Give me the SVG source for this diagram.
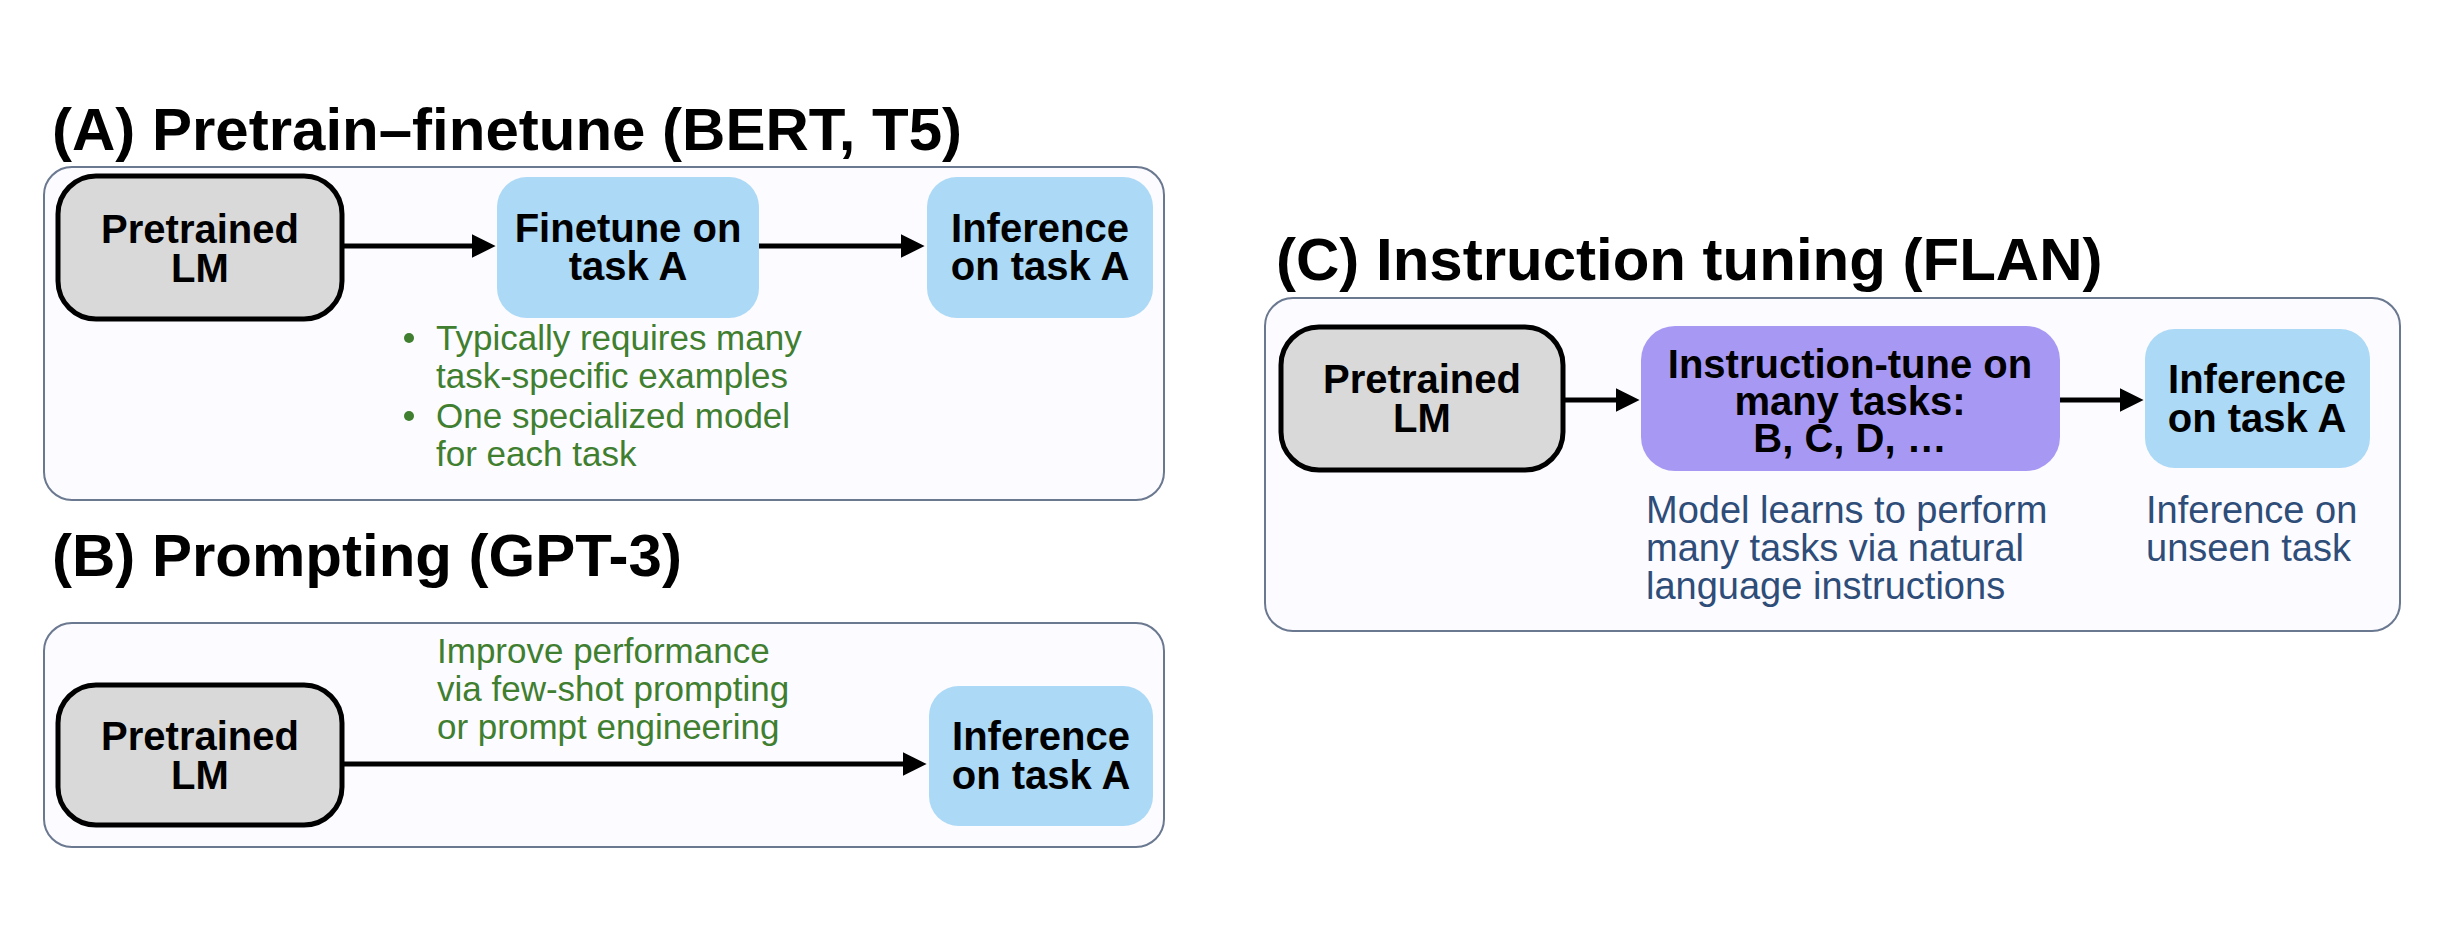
<svg xmlns="http://www.w3.org/2000/svg" width="2460" height="952" viewBox="0 0 2460 952">
  <defs>
    <marker id="ah" viewBox="0 0 10 10" refX="1" refY="5" markerWidth="24" markerHeight="28" markerUnits="userSpaceOnUse" orient="auto">
      <path d="M0,0 L10,5 L0,10 Z" fill="#000"/>
    </marker>
    <style>
      .title { font-family: "Liberation Sans", Arial, sans-serif; font-weight: bold; font-size: 60px; fill: #000; }
      .panel { fill: #fcfbff; stroke: #6a7890; stroke-width: 2; }
      .gray { fill: #d9d9d9; stroke: #000; stroke-width: 5; }
      .blue { fill: #abd9f6; }
      .purple { fill: #a799f3; }
      .nt { font-family: "Liberation Sans", Arial, sans-serif; font-weight: bold; font-size: 40px; fill: #000; text-anchor: middle; }
      .green { font-family: "Liberation Sans", Arial, sans-serif; font-size: 35px; fill: #3f7f2f; }
      .bluet { font-family: "Liberation Sans", Arial, sans-serif; font-size: 38px; fill: #2e4d78; }
      .conn { stroke: #000; stroke-width: 5; fill: none; marker-end: url(#ah); }
    </style>
  </defs>
  <rect width="2460" height="952" fill="#ffffff"/>

  <!-- Panel A -->
  <g id="panelA">
    <text class="title" x="52" y="150">(A) Pretrain–finetune (BERT, T5)</text>
    <rect class="panel" x="44" y="167" width="1120" height="333" rx="28"/>
  </g>
  <g id="A_pretrained">
    <rect class="gray" x="58" y="176" width="284" height="143" rx="38"/>
    <text class="nt"><tspan x="200" y="243">Pretrained</tspan><tspan x="200" y="282">LM</tspan></text>
  </g>
  <g id="A_finetune">
    <rect class="blue" x="497" y="177" width="262" height="141" rx="30"/>
    <text class="nt"><tspan x="628" y="242">Finetune on</tspan><tspan x="628" y="280">task A</tspan></text>
  </g>
  <g id="A_inference">
    <rect class="blue" x="927" y="177" width="226" height="141" rx="30"/>
    <text class="nt"><tspan x="1040" y="242">Inference</tspan><tspan x="1040" y="280">on task A</tspan></text>
  </g>
  <g id="A_notes">
    <circle cx="409" cy="338" r="5" fill="#3f7f2f"/>
    <circle cx="409" cy="416" r="5" fill="#3f7f2f"/>
    <text class="green"><tspan x="436" y="350">Typically requires many</tspan><tspan x="436" y="388">task-specific examples</tspan><tspan x="436" y="428">One specialized model</tspan><tspan x="436" y="466">for each task</tspan></text>
  </g>

  <!-- Panel B -->
  <g id="panelB">
    <text class="title" x="52" y="576">(B) Prompting (GPT-3)</text>
    <rect class="panel" x="44" y="623" width="1120" height="224" rx="28"/>
  </g>
  <g id="B_pretrained">
    <rect class="gray" x="58" y="685" width="284" height="140" rx="38"/>
    <text class="nt"><tspan x="200" y="750">Pretrained</tspan><tspan x="200" y="789">LM</tspan></text>
  </g>
  <g id="B_inference">
    <rect class="blue" x="929" y="686" width="224" height="140" rx="30"/>
    <text class="nt"><tspan x="1041" y="750">Inference</tspan><tspan x="1041" y="789">on task A</tspan></text>
  </g>
  <g id="B_note">
    <text class="green"><tspan x="437" y="663">Improve performance</tspan><tspan x="437" y="701">via few-shot prompting</tspan><tspan x="437" y="739">or prompt engineering</tspan></text>
  </g>

  <!-- Panel C -->
  <g id="panelC">
    <text class="title" x="1276" y="280">(C) Instruction tuning (FLAN)</text>
    <rect class="panel" x="1265" y="298" width="1135" height="333" rx="28"/>
  </g>
  <g id="C_pretrained">
    <rect class="gray" x="1281" y="327" width="282" height="143" rx="38"/>
    <text class="nt"><tspan x="1422" y="393">Pretrained</tspan><tspan x="1422" y="432">LM</tspan></text>
  </g>
  <g id="C_instruct">
    <rect class="purple" x="1641" y="326" width="419" height="145" rx="34"/>
    <text class="nt"><tspan x="1850" y="378">Instruction-tune on</tspan><tspan x="1850" y="415">many tasks:</tspan><tspan x="1850" y="452">B, C, D, …</tspan></text>
  </g>
  <g id="C_inference">
    <rect class="blue" x="2145" y="329" width="225" height="139" rx="30"/>
    <text class="nt"><tspan x="2257" y="393">Inference</tspan><tspan x="2257" y="432">on task A</tspan></text>
  </g>
  <g id="C_notes">
    <text class="bluet"><tspan x="1646" y="523">Model learns to perform</tspan><tspan x="1646" y="561">many tasks via natural</tspan><tspan x="1646" y="599">language instructions</tspan></text>
    <text class="bluet"><tspan x="2146" y="523">Inference on</tspan><tspan x="2146" y="561">unseen task</tspan></text>
  </g>

  <!-- Connectors -->
  <g id="connectors">
    <line class="conn" x1="342" y1="246" x2="474" y2="246"/>
    <line class="conn" x1="759" y1="246" x2="903" y2="246"/>
    <line class="conn" x1="342" y1="764" x2="905" y2="764"/>
    <line class="conn" x1="1563" y1="400" x2="1618" y2="400"/>
    <line class="conn" x1="2060" y1="400" x2="2122" y2="400"/>
  </g>
</svg>
